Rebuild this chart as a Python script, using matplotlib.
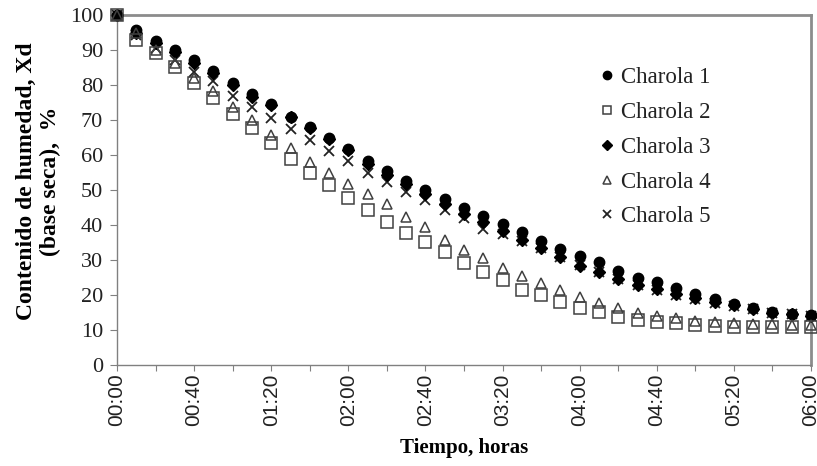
import matplotlib
matplotlib.use("Agg")
import matplotlib.pyplot as plt
from matplotlib.ticker import MultipleLocator, FuncFormatter

# Drying time in minutes (readings every 10 min)
tiempo_min = list(range(0, 361, 10))

charola_1 = [100, 95.6, 92.5, 89.9, 87.1, 84.1, 80.6, 77.4, 74.5, 71.0, 67.9, 64.8, 61.6,
             58.4, 55.5, 52.7, 50.0, 47.3, 44.9, 42.6, 40.3, 37.9, 35.5, 33.1, 31.2,
             29.3, 26.9, 25.0, 23.6, 21.9, 20.3, 18.9, 17.5, 16.2, 15.2, 14.7, 14.3]
charola_2 = [100, 93.0, 89.1, 85.1, 80.5, 76.2, 71.7, 67.6, 63.3, 59.0, 54.8, 51.4, 47.6,
             44.3, 41.0, 37.8, 35.1, 32.2, 29.2, 26.7, 24.3, 21.4, 20.0, 18.1, 16.2,
             15.2, 13.8, 12.9, 12.4, 11.9, 11.4, 11.1, 11.0, 10.9, 10.9, 10.9, 10.9]
charola_3 = [100, 95.0, 92.0, 89.3, 86.4, 83.4, 79.9, 76.7, 74.3, 70.8, 67.7, 64.6, 61.3,
             57.4, 54.2, 51.6, 48.9, 46.0, 43.1, 40.8, 38.4, 35.6, 33.4, 30.8, 28.4,
             26.5, 24.5, 23.0, 21.6, 20.2, 19.2, 18.1, 17.2, 15.9, 15.0, 14.5, 14.0]
charola_4 = [100, 94.8, 90.0, 86.2, 81.9, 78.3, 73.8, 70.0, 65.7, 61.9, 58.1, 54.8, 51.7,
             49.0, 45.9, 42.4, 39.5, 35.7, 33.0, 30.5, 27.6, 25.4, 23.3, 21.4, 19.5,
             17.6, 16.2, 14.8, 14.1, 13.3, 12.7, 12.3, 12.0, 11.8, 11.6, 11.5, 11.4]
charola_5 = [100, 94.3, 90.6, 87.2, 83.8, 81.2, 76.9, 73.8, 70.6, 67.3, 64.3, 61.2, 58.4,
             54.8, 52.4, 49.5, 47.1, 44.3, 41.9, 39.0, 37.3, 35.5, 33.5, 31.0, 28.7,
             26.7, 24.6, 23.0, 21.5, 20.0, 18.8, 17.8, 16.9, 15.9, 15.0, 14.5, 14.0]

nombres = ["Charola 1", "Charola 2", "Charola 3", "Charola 4", "Charola 5"]

serif = ["Liberation Serif", "DejaVu Serif"]
sans = ["Liberation Sans", "DejaVu Sans"]

fig = plt.figure(figsize=(8.17, 4.66), dpi=100)
ax = fig.add_axes([0.1432, 0.2167, 0.8495, 0.7511])

comun = dict(ls="none", clip_on=False)
ax.plot(tiempo_min, charola_1, marker="o", ms=7.5, mfc="black", mec="black",
        label=nombres[0], zorder=3, **comun)
ax.plot(tiempo_min, charola_2, marker="s", ms=8, mfc="none", mec="#404040",
        mew=1.1, label=nombres[1], zorder=4, **comun)
ax.plot(tiempo_min, charola_3, marker="D", ms=6.5, mfc="black", mec="black",
        label=nombres[2], zorder=3, **comun)
ax.plot(tiempo_min, charola_4, marker="^", ms=7.5, mfc="none", mec="#404040",
        mew=1.1, label=nombres[3], zorder=4, **comun)
ax.plot(tiempo_min, charola_5, marker="x", ms=7, mec="#222222", mew=1.3,
        label=nombres[4], zorder=2, **comun)

ax.set_xlim(0, 360)
ax.set_ylim(0, 100)

ax.xaxis.set_major_locator(MultipleLocator(40))
ax.xaxis.set_minor_locator(MultipleLocator(20))
ax.xaxis.set_major_formatter(FuncFormatter(lambda v, p: f"{int(v)//60:02d}:{int(v)%60:02d}"))
ax.yaxis.set_major_locator(MultipleLocator(10))

ax.tick_params(axis="x", which="both", direction="out", length=4, width=0.8,
               color="#808080", pad=2)
ax.tick_params(axis="y", direction="out", length=5, width=0.8, color="#808080", pad=5)
for lab in ax.get_xticklabels():
    lab.set_rotation(90)
    lab.set_family(sans)
    lab.set_fontsize(15)
    lab.set_color("#222222")
for lab in ax.get_yticklabels():
    lab.set_family(serif)
    lab.set_fontsize(16)
    lab.set_color("#222222")

for side in ["left", "bottom"]:
    ax.spines[side].set_color("#808080")
    ax.spines[side].set_linewidth(1.0)
for side in ["top", "right"]:
    ax.spines[side].set_color("#8c8c8c")
    ax.spines[side].set_linewidth(2.0)

ax.set_xlabel("Tiempo, horas", family=serif, fontsize=15, fontweight="bold", va="center")
ax.xaxis.set_label_coords(0.5, -0.236)
ax.set_ylabel("Contenido de humedad, Xd\n(base seca),  %", family=serif, fontsize=17,
              fontweight="bold", linespacing=1.15, va="center")
ax.yaxis.set_label_coords(-0.113, 0.524)

leg = ax.legend(loc="upper left", bbox_to_anchor=(0.667, 0.91), frameon=False,
                prop={"family": serif, "size": 16.5}, handlelength=0.6, handletextpad=0.3,
                labelspacing=0.6, markerscale=0.8)
for t in leg.get_texts():
    t.set_color("#222222")

fig.savefig("out.png", dpi=100)
